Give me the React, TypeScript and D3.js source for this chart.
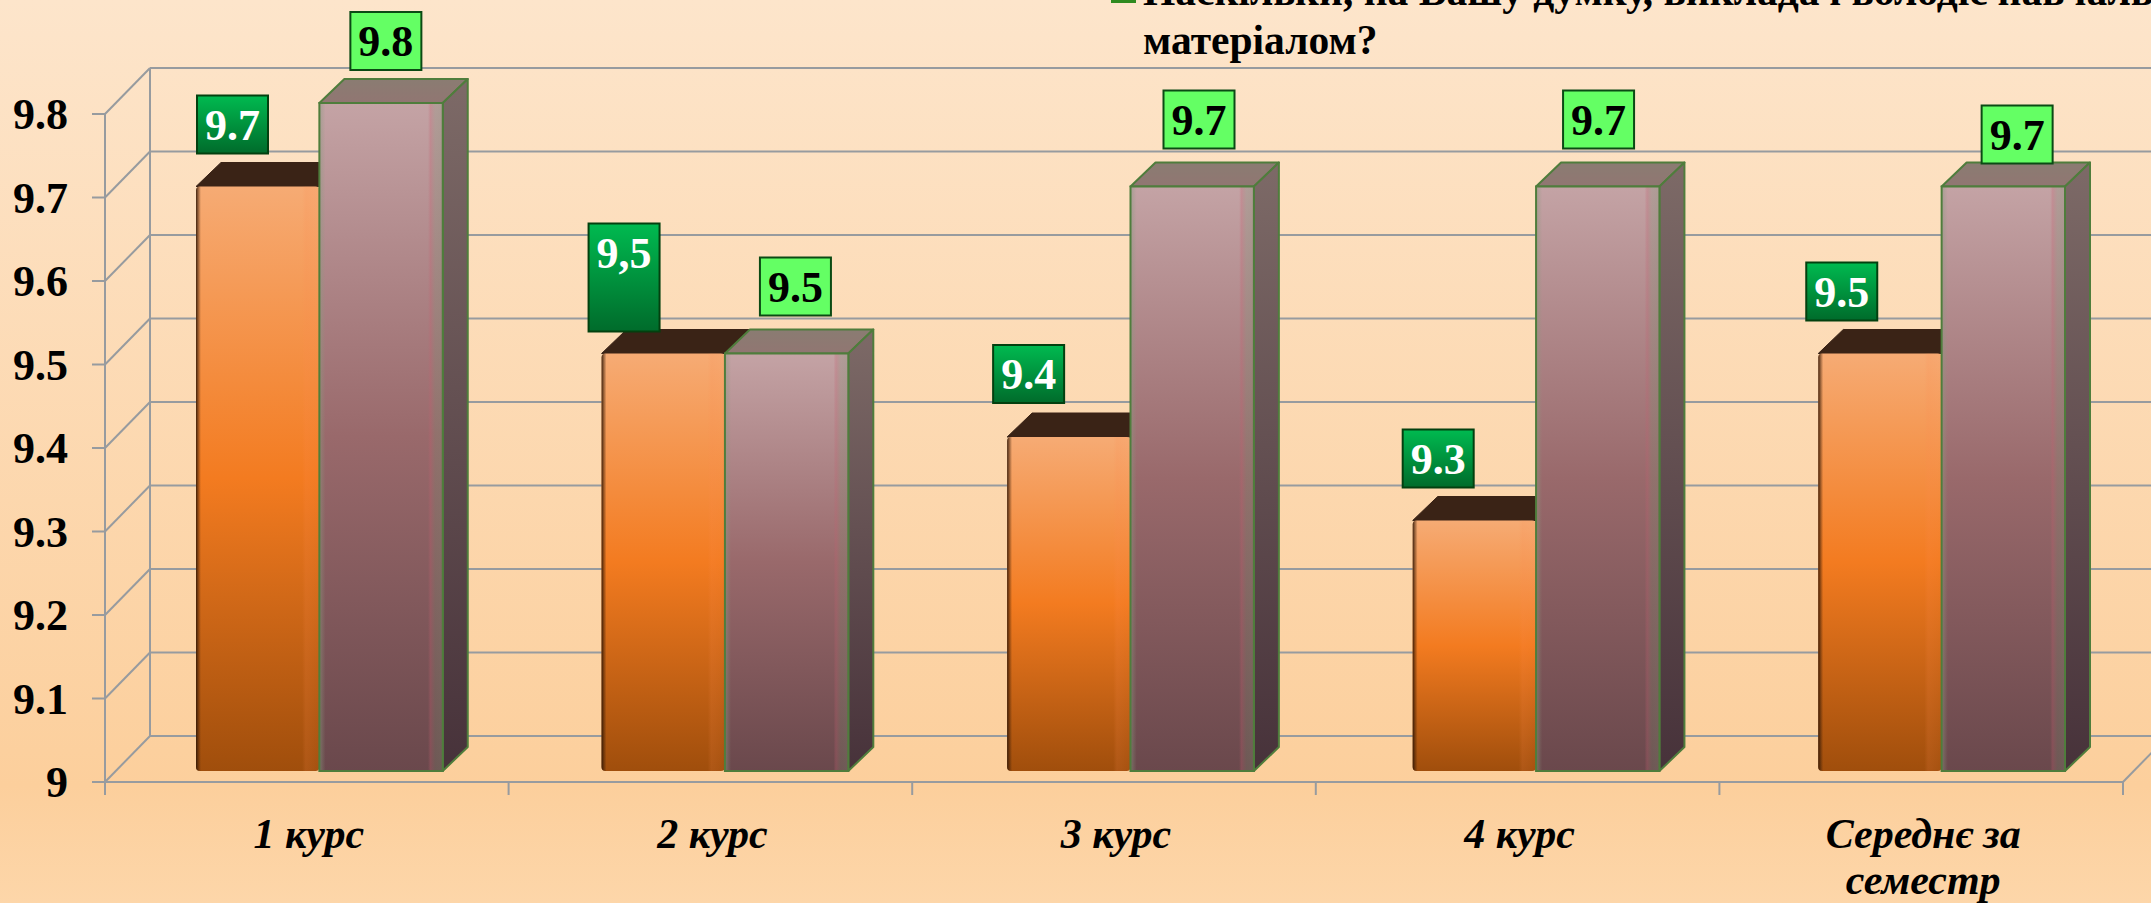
import React from 'react';
import * as d3 from 'd3';

const categories = ['1 курс', '2 курс', '3 курс', '4 курс', 'Середнє за семестр'];
const seriesA = [9.7, 9.5, 9.4, 9.3, 9.5];
const seriesB = [9.8, 9.5, 9.7, 9.7, 9.7];
const labelsA = ['9.7', '9,5', '9.4', '9.3', '9.5'];
const labelsB = ['9.8', '9.5', '9.7', '9.7', '9.7'];
const yTicks = [9, 9.1, 9.2, 9.3, 9.4, 9.5, 9.6, 9.7, 9.8];
const legendLines = ['Наскільки, на Вашу думку, викладач володіє навчальним', 'матеріалом?'];

// the data labels were moved by hand in the original, so they do not sit at one offset
const labelNudgeA = [[1, 33], [-13, 22], [-14, 34], [-10, 33], [-12, 33]];
const labelNudgeB = [[31, 33], [35, 38], [33, 38], [27, 38], [40, 23]];
const labelHeightA = [58, 108, 58, 58, 58];

const W = 2151;
const H = 903;
const serif = '"Liberation Serif", serif';

const wall = { dx: 45, dy: -46 };
const barDepth = { dx: 25, dy: -24 };
const barLift = { dx: 0, dy: -11 };

const y = d3.scaleLinear().domain([9, 9.8]).range([782, 114]);
const xAxis = d3.scaleBand<string>().domain(categories).range([105, 2123]);
const xBars = d3.scaleBand<string>().domain(categories).range([196, 2065]).paddingInner(0.3916).paddingOuter(0);
const xSeries = d3.scaleBand<string>().domain(['a', 'b']).range([0, xBars.bandwidth()]);

const poly = (pts: [number, number][]) => d3.line()(pts) + 'Z';

const Bar = ({ x, value, w, kind }: { x: number; value: number; w: number; kind: 'a' | 'b' }) => {
  const top = y(value) + barLift.dy;
  const base = y(9) + barLift.dy;
  const { dx, dy } = barDepth;
  const isA = kind === 'a';
  const stroke = isA ? 'none' : '#4f7d3c';
  return (
    <g>
      <path
        d={poly([[x, top], [x + dx, top + dy], [x + w + dx, top + dy], [x + w, top]])}
        fill={isA ? '#3a2316' : 'url(#topB)'}
        stroke={isA ? '#3a2316' : stroke}
        strokeWidth={isA ? 1 : 2}
        strokeLinejoin="round"
      />
      <path
        d={poly([[x + w, top], [x + w + dx, top + dy], [x + w + dx, base + dy], [x + w, base]])}
        fill={isA ? '#5a3010' : 'url(#sideB)'}
        stroke={stroke}
        strokeWidth={2}
        strokeLinejoin="round"
      />
      <rect x={x} y={top} width={w} height={base - top} rx={isA ? 4 : 0} fill={isA ? 'url(#frontA)' : 'url(#frontB)'} />
      <rect x={x} y={top} width={w} height={base - top} rx={isA ? 4 : 0} fill={isA ? 'url(#edgeA)' : 'url(#edgeB)'} stroke={stroke} strokeWidth={2} />
    </g>
  );
};

const Label = ({ x, bottom, h, text, dark }: { x: number; bottom: number; h: number; text: string; dark: boolean }) => (
  <g>
    <rect
      x={x}
      y={bottom - h}
      width={71}
      height={h}
      fill={dark ? 'url(#labelDark)' : '#64ff64'}
      stroke={dark ? '#03400f' : '#0b4a14'}
      strokeWidth={2}
    />
    <text
      x={x + 35.5}
      y={bottom - h + 44}
      textAnchor="middle"
      fontFamily={serif}
      fontWeight="bold"
      fontSize={44}
      fill={dark ? '#fff' : '#000'}
    >
      {text}
    </text>
  </g>
);

export default function App() {
  const rows = categories.map((c, i) => ({ c, a: seriesA[i], b: seriesB[i], i }));
  const barW = xSeries.bandwidth();
  const gridColor = '#979b9f';

  return (
    <svg width={W} height={H} style={{ position: 'fixed', left: 0, top: 0 }}>
      <defs>
        <linearGradient id="bg" x1="0" y1="0" x2="0" y2="1">
          <stop offset="0" stopColor="#fde5cb" />
          <stop offset="0.87" stopColor="#fccf9c" />
          <stop offset="1" stopColor="#fdd6a9" />
        </linearGradient>
        <linearGradient id="frontA" x1="0" y1="0" x2="0" y2="1">
          <stop offset="0" stopColor="#f6ab74" />
          <stop offset="0.5" stopColor="#f37b20" />
          <stop offset="1" stopColor="#a04e0c" />
        </linearGradient>
        <linearGradient id="frontB" x1="0" y1="0" x2="0" y2="1">
          <stop offset="0" stopColor="#c4a3a5" />
          <stop offset="0.5" stopColor="#99696b" />
          <stop offset="1" stopColor="#6a484c" />
        </linearGradient>
        <linearGradient id="sideB" x1="0" y1="0" x2="0" y2="1">
          <stop offset="0" stopColor="#7d6a67" />
          <stop offset="1" stopColor="#47323a" />
        </linearGradient>
        <linearGradient id="topB" x1="0" y1="0" x2="0" y2="1">
          <stop offset="0" stopColor="#8a7c72" />
          <stop offset="1" stopColor="#917672" />
        </linearGradient>
        <linearGradient id="edgeA" x1="0" y1="0" x2="1" y2="0">
          <stop offset="0" stopColor="#2e1606" stopOpacity="0.9" />
          <stop offset="0.04" stopColor="#3c1e08" stopOpacity="0" />
          <stop offset="0.86" stopColor="#ff8a50" stopOpacity="0" />
          <stop offset="0.89" stopColor="#ff8a50" stopOpacity="0.15" />
          <stop offset="1" stopColor="#ff8a50" stopOpacity="0.05" />
        </linearGradient>
        <linearGradient id="edgeB" x1="0" y1="0" x2="1" y2="0">
          <stop offset="0" stopColor="#8a9a80" stopOpacity="0.5" />
          <stop offset="0.05" stopColor="#8a9a80" stopOpacity="0" />
          <stop offset="0.88" stopColor="#c06070" stopOpacity="0" />
          <stop offset="0.9" stopColor="#c06070" stopOpacity="0.3" />
          <stop offset="0.94" stopColor="#7a8a70" stopOpacity="0.25" />
          <stop offset="1" stopColor="#7a8a70" stopOpacity="0.3" />
        </linearGradient>
        <linearGradient id="labelDark" x1="0" y1="0" x2="0" y2="1">
          <stop offset="0" stopColor="#00ba50" />
          <stop offset="1" stopColor="#006b2b" />
        </linearGradient>
      </defs>

      <rect width={W} height={H} fill="url(#bg)" />

      {/* legend, cut off by the top and right edges as in the source */}
      <rect x={1111} y={-20} width={25} height={23} fill="#2f8a1f" />
      {legendLines.map((line, i) => (
        <text key={line} x={1143} y={5 + i * 49} fontFamily={serif} fontWeight="bold" fontSize={41.5} fill="#000">
          {line}
        </text>
      ))}

      {/* walls and grid */}
      <g stroke={gridColor} strokeWidth={2} fill="none">
        {yTicks.map((t) => (
          <g key={t}>
            <line x1={105 + wall.dx} x2={W} y1={y(t) + wall.dy} y2={y(t) + wall.dy} />
            <line x1={105} x2={105 + wall.dx} y1={y(t)} y2={y(t) + wall.dy} />
            <line x1={92} x2={105} y1={y(t)} y2={y(t)} />
          </g>
        ))}
        <line x1={105} x2={105} y1={y(9.8)} y2={795} />
        <line x1={105 + wall.dx} x2={105 + wall.dx} y1={y(9.8) + wall.dy} y2={y(9) + wall.dy} />
        <line x1={105} x2={2123} y1={y(9)} y2={y(9)} />
        <line x1={2123} x2={2123 + wall.dx} y1={y(9)} y2={y(9) + wall.dy} />
        {[...categories.slice(1).map((c) => xAxis(c)!), 2123].map((tx) => (
          <line key={tx} x1={tx} x2={tx} y1={y(9)} y2={795} />
        ))}
      </g>

      {yTicks.map((t) => (
        <text
          key={t}
          x={68}
          y={y(t) + 15}
          textAnchor="end"
          fontFamily={serif}
          fontWeight="bold"
          fontSize={44}
          fill="#000"
        >
          {d3.format('.2~f')(t)}
        </text>
      ))}

      {rows.map(({ c, a, b }) => {
        const x0 = xBars(c)!;
        return (
          <g key={c}>
            <Bar x={x0 + xSeries('a')!} value={a} w={barW} kind="a" />
            <Bar x={x0 + xSeries('b')!} value={b} w={barW} kind="b" />
          </g>
        );
      })}

      {rows.map(({ c, a, b, i }) => {
        const x0 = xBars(c)!;
        return (
          <g key={c}>
            <Label
              x={x0 + xSeries('a')! + labelNudgeA[i][0]}
              bottom={y(a) + barLift.dy - labelNudgeA[i][1]}
              h={labelHeightA[i]}
              text={labelsA[i]}
              dark
            />
            <Label
              x={x0 + xSeries('b')! + labelNudgeB[i][0]}
              bottom={y(b) + barLift.dy - labelNudgeB[i][1]}
              h={58}
              text={labelsB[i]}
              dark={false}
            />
          </g>
        );
      })}

      {categories.map((c) => {
        const cx = xAxis(c)! + xAxis.bandwidth() / 2 + 2;
        // long category wraps after the second word
        const words = c.split(' ');
        const lines = words.length > 2 ? [words.slice(0, 2).join(' '), words.slice(2).join(' ')] : [c];
        return (
          <text
            key={c}
            textAnchor="middle"
            fontFamily={serif}
            fontWeight="bold"
            fontStyle="italic"
            fontSize={42}
            fill="#000"
          >
            {lines.map((l, i) => (
              <tspan key={l} x={cx} y={848 + i * 46}>
                {l}
              </tspan>
            ))}
          </text>
        );
      })}
    </svg>
  );
}
